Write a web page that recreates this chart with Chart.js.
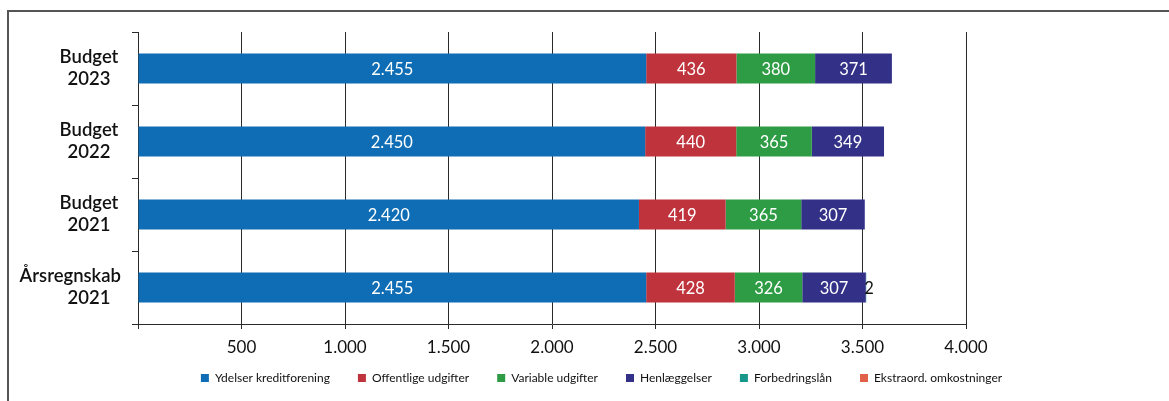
<!DOCTYPE html>
<html>
<head>
<meta charset="utf-8">
<script src="https://cdn.jsdelivr.net/npm/chart.js@4"></script>
<style>
  html, body { margin: 0; padding: 0; background: #fff; overflow: hidden; }
  #frame { position: absolute; left: 7px; top: 10px; width: 1220px; height: 460px; border: 2px solid #555; box-sizing: border-box; }
  #wrap { position: absolute; left: 0; top: 0; width: 1169px; height: 401px; }
</style>
</head>
<body>
<div id="frame"></div>
<div id="wrap"><canvas id="c" width="1169" height="401"></canvas></div>
<script>
const categories = [['Budget', '2023'], ['Budget', '2022'], ['Budget', '2021'], ['Årsregnskab', '2021']];
const seriesNames = ['Ydelser kreditforening', 'Offentlige udgifter', 'Variable udgifter', 'Henlæggelser', 'Forbedringslån', 'Ekstraord. omkostninger'];
const ydelser = [2455, 2450, 2420, 2455];
const offentlige = [436, 440, 419, 428];
const variable = [380, 365, 365, 326];
const henlaeggelser = [371, 349, 307, 307];
const forbedringslaan = [0, 0, 0, 2];
const ekstraord = [0, 0, 0, 0];
const xTicks = [0, 500, 1000, 1500, 2000, 2500, 3000, 3500, 4000];

const colors = ['#0E6DB4', '#BF343C', '#2E9C45', '#333088', '#16978A', '#E2604A'];
const seriesData = [ydelser, offentlige, variable, henlaeggelser, forbedringslaan, ekstraord];
const FONT = 'Lato, "Open Sans", sans-serif';

function fmt(v) { return String(v).replace(/\B(?=(\d{3})+(?!\d))/g, '.'); }

const valueLabels = {
  id: 'valueLabels',
  afterDatasetsDraw(chart) {
    const ctx = chart.ctx;
    ctx.save();
    ctx.font = '16.5px ' + FONT;
    ctx.textBaseline = 'middle';
    chart.data.datasets.forEach((ds, i) => {
      const meta = chart.getDatasetMeta(i);
      meta.data.forEach((bar, j) => {
        const v = ds.data[j];
        if (!v) return;
        if (v >= 60) {
          ctx.fillStyle = '#ffffff';
          ctx.textAlign = 'center';
          ctx.fillText(fmt(v), (bar.x + bar.base) / 2, bar.y + 1);
        } else {
          ctx.fillStyle = '#111111';
          ctx.textAlign = 'left';
          ctx.fillText(fmt(v), bar.x - 2, bar.y + 1);
        }
      });
    });
    ctx.restore();
  }
};

const catLabels = {
  id: 'catLabels',
  afterDraw(chart) {
    const ctx = chart.ctx;
    const y = chart.scales.y;
    ctx.save();
    ctx.font = '600 18.5px ' + FONT;
    ctx.fillStyle = '#111111';
    ctx.textBaseline = 'middle';
    const cx = 89, rightEdge = 121;
    chart.data.labels.forEach((lines, i) => {
      const py = y.getPixelForTick(i);
      lines.forEach((line, k) => {
        const ly = py + (k - (lines.length - 1) / 2) * 22;
        const w = ctx.measureText(line).width;
        if (w / 2 > rightEdge - cx) {
          ctx.textAlign = 'right';
          ctx.fillText(line, rightEdge, ly);
        } else {
          ctx.textAlign = 'center';
          ctx.fillText(line, cx, ly);
        }
      });
    });
    ctx.restore();
  }
};

const legendShift = {
  id: 'legendShift',
  afterLayout(chart) {
    const lg = chart.legend;
    if (!lg) return;
    const targetTop = 344;
    const dy = targetTop - lg.top;
    lg.top += dy;
    lg.bottom += dy;
  }
};

new Chart(document.getElementById('c'), {
  type: 'bar',
  data: {
    labels: categories,
    datasets: seriesNames.map((name, i) => ({
      label: name,
      data: seriesData[i],
      backgroundColor: colors[i],
      borderWidth: 0,
      categoryPercentage: 1,
      barPercentage: 0.41
    }))
  },
  options: {
    indexAxis: 'y',
    responsive: false,
    animation: false,
    layout: { padding: { top: 32, left: 34, right: 0, bottom: -4 } },
    scales: {
      x: {
        stacked: true,
        min: 0,
        max: 4000,
        afterBuildTicks(s) { s.ticks = xTicks.map(v => ({ value: v })); },
        ticks: {
          callback: v => v === 0 ? '' : fmt(v),
          color: '#111',
          font: { size: 17, family: FONT },
          padding: 8,
          maxRotation: 0
        },
        grid: { color: '#2a2a2a', lineWidth: 1, tickLength: 5, drawOnChartArea: true },
        border: { display: true, color: '#2a2a2a', width: 1 },
        afterFit(s) { s.height = 31; }
      },
      y: {
        stacked: true,
        ticks: { display: false },
        grid: { offset: true, drawOnChartArea: false, color: '#2a2a2a', tickLength: 6 },
        border: { display: true, color: '#2a2a2a', width: 1 },
        afterFit(s) { s.width = 104; }
      },
      y2: {
        type: 'category',
        position: 'right',
        labels: ['a'],
        ticks: { display: false },
        grid: { display: false },
        border: { display: false },
        afterFit(s) { s.width = 203; }
      }
    },
    plugins: {
      legend: {
        position: 'bottom',
        align: 'center',
        labels: {
          boxWidth: 8,
          boxHeight: 8,
          padding: 28,
          color: '#111',
          font: { size: 12, family: FONT }
        }
      },
      tooltip: { enabled: false }
    }
  },
  plugins: [valueLabels, catLabels, legendShift]
});
</script>
</body>
</html>
